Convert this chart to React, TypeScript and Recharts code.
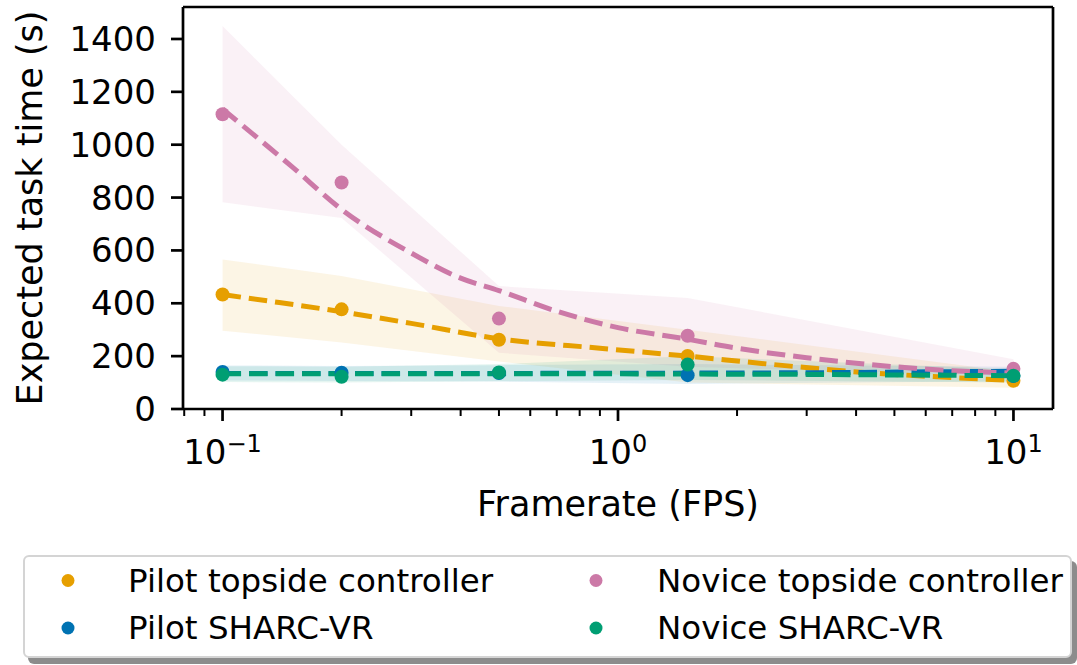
import { ComposedChart, XAxis, YAxis, Area, Line, Scatter, ReferenceLine } from "recharts";

const FONT = "DejaVu Sans";

const fps = [0.1, 0.2, 0.5, 1.5, 10];

// mean task time per condition
const pilotTopside = [433, 377, 262, 201, 107];
const pilotSharc = [140, 137, 136, 128, 125];
const noviceTopside = [1115, 857, 342, 277, 152];
const noviceSharc = [130, 122, 138, 168, 126];

// shaded interval bounds
const pilotTopsideLow = [296, 252, 180, 100, 80];
const pilotTopsideHigh = [566, 503, 390, 300, 140];
const pilotSharcLow = [108, 106, 104, 95, 105];
const pilotSharcHigh = [165, 163, 166, 170, 160];
const noviceTopsideLow = [782, 723, 213, 160, 125];
const noviceTopsideHigh = [1449, 1000, 465, 420, 188];
const noviceSharcLow = [102, 100, 105, 110, 100];
const noviceSharcHigh = [162, 160, 170, 200, 150];

// fitted curves
const pilotTopsideFitFps = [0.1, 0.13, 0.2, 0.3, 0.5, 0.9, 1.5, 2.4, 4.2, 6.2, 10];
const pilotTopsideFit = [433, 409, 368, 324, 266, 230, 200, 170, 138, 123, 108];
const noviceTopsideFitFps = [0.1, 0.13, 0.15, 0.2, 0.3, 0.4, 0.5, 0.7, 1, 1.5, 2, 3, 5, 7, 10];
const noviceTopsideFit = [1135, 994, 916, 755, 590, 495, 448, 370, 308, 264, 230, 194, 160, 145, 136];
const sharcFitFps = [0.1, 1, 3, 10];
const pilotSharcFit = [134, 135, 137, 143];
const noviceSharcFit = [133, 133, 131, 126];

const majorTicks = [0.1, 1, 10];
const minorTicks = [0.08, 0.09, 0.2, 0.3, 0.4, 0.5, 0.6, 0.7, 0.8, 0.9, 2, 3, 4, 5, 6, 7, 8, 9];
const yTicks = [0, 200, 400, 600, 800, 1000, 1200, 1400];

const X_MIN = Math.pow(10, -1.1);
const X_MAX = Math.pow(10, 1.1);
const Y_MAX = 1521;

const pts = (xs: number[], ys: number[]) => xs.map((x, i) => ({ x, y: ys[i] }));
const band = (lo: number[], hi: number[]) => fps.map((x, i) => ({ x, band: [lo[i], hi[i]] }));

const series = [
  { name: "Pilot topside controller", color: "#E69F00", points: pts(fps, pilotTopside), band: band(pilotTopsideLow, pilotTopsideHigh), fit: pts(pilotTopsideFitFps, pilotTopsideFit), curve: "monotone" },
  { name: "Pilot SHARC-VR", color: "#0072B2", points: pts(fps, pilotSharc), band: band(pilotSharcLow, pilotSharcHigh), fit: pts(sharcFitFps, pilotSharcFit), curve: "linear" },
  { name: "Novice topside controller", color: "#CC79A7", points: pts(fps, noviceTopside), band: band(noviceTopsideLow, noviceTopsideHigh), fit: pts(noviceTopsideFitFps, noviceTopsideFit), curve: "monotone" },
  { name: "Novice SHARC-VR", color: "#009E73", points: pts(fps, noviceSharc), band: band(noviceSharcLow, noviceSharcHigh), fit: pts(sharcFitFps, noviceSharcFit), curve: "linear" },
];

const SUP: Record<string, string> = { "-1": "\u22121", "0": "0", "1": "1" };

const XTick = (props: any) => {
  const { x, y, payload } = props;
  const v = payload.value;
  const major = majorTicks.some((m) => Math.abs(m - v) < 1e-9);
  const exp = String(Math.round(Math.log10(v)));
  return (
    <g>
      <line x1={x} x2={x} y1={y} y2={y + (major ? 12 : 7)} stroke="#000" strokeWidth={major ? 2.7 : 2} />
      {major && (
        <text x={x} y={y + 55} textAnchor="middle" fontFamily={FONT} fontSize={34} fill="#000">
          <tspan>10</tspan>
          <tspan dy={-12} fontSize={24}>{SUP[exp]}</tspan>
        </text>
      )}
    </g>
  );
};

const XLabel = (props: any) => {
  const vb = props.viewBox;
  return (
    <text x={vb.x + vb.width / 2} y={vb.y + 107} textAnchor="middle" fontFamily={FONT} fontSize={35} fill="#000">
      Framerate (FPS)
    </text>
  );
};

const YLabel = (props: any) => {
  const vb = props.viewBox;
  const cy = vb.y + vb.height / 2;
  return (
    <text x={42} y={cy} transform={`rotate(-90, 42, ${cy})`} textAnchor="middle" fontFamily={FONT} fontSize={35} fill="#000">
      Expected task time (s)
    </text>
  );
};

const axisStroke = { stroke: "#000", strokeWidth: 2.7 };

export default function App() {
  return (
    <div style={{ position: "absolute", left: 0, top: 0, width: 1077, height: 665, background: "#fff" }}>
      <ComposedChart width={1077} height={545} margin={{ top: 7, right: 24, bottom: 26, left: 0 }}>
        <XAxis
          dataKey="x"
          type="number"
          scale="log"
          domain={[X_MIN, X_MAX]}
          allowDataOverflow
          ticks={[...minorTicks, ...majorTicks].sort((a, b) => a - b)}
          interval={0}
          tick={<XTick />}
          tickLine={false}
          tickSize={0}
          tickMargin={0}
          axisLine={axisStroke}
          height={110}
          label={<XLabel />}
        />
        <YAxis
          type="number"
          domain={[0, Y_MAX]}
          allowDataOverflow
          ticks={yTicks}
          interval={0}
          width={183}
          tickSize={12}
          tickMargin={15}
          tickLine={axisStroke}
          axisLine={axisStroke}
          tick={{ fill: "#000", fontSize: 34, fontFamily: FONT }}
          label={<YLabel />}
        />

        {series.map((s) => (
          <Area
            key={`band-${s.name}`}
            data={s.band}
            dataKey="band"
            type="linear"
            stroke="none"
            fill={s.color}
            fillOpacity={0.1}
            isAnimationActive={false}
            activeDot={false}
          />
        ))}
        {series.map((s) => (
          <Scatter
            key={`pts-${s.name}`}
            data={s.points}
            dataKey="y"
            fill={s.color}
            isAnimationActive={false}
            shape={(p: any) => <circle cx={p.cx} cy={p.cy} r={7} fill={s.color} />}
          />
        ))}
        {series.map((s) => (
          <Line
            key={`fit-${s.name}`}
            data={s.fit}
            dataKey="y"
            type={s.curve as any}
            stroke={s.color}
            strokeWidth={5}
            strokeDasharray="18.5 8"
            dot={false}
            activeDot={false}
            isAnimationActive={false}
          />
        ))}

        {/* top and right spines */}
        <ReferenceLine y={Y_MAX} stroke="#000" strokeWidth={2.7} ifOverflow="visible" />
        <ReferenceLine x={X_MAX} stroke="#000" strokeWidth={2.7} ifOverflow="visible" />
      </ComposedChart>

      <div
        style={{
          position: "absolute",
          left: 23,
          top: 555,
          width: 1049,
          height: 103,
          boxSizing: "border-box",
          border: "2px solid #d4d4d4",
          borderRadius: 6,
          background: "#fff",
          boxShadow: "5px 6px 0 rgba(0,0,0,0.45)",
        }}
      />
      <svg width={1077} height={665} style={{ position: "absolute", left: 0, top: 0, pointerEvents: "none" }}>
        {series.map((s, k) => {
          const col = Math.floor(k / 2);
          const row = k % 2;
          const dotX = col === 0 ? 68 : 596;
          const textX = col === 0 ? 128 : 657;
          const cy = row === 0 ? 580.5 : 628;
          return (
            <g key={s.name}>
              <circle cx={dotX} cy={cy} r={6.5} fill={s.color} />
              <text x={textX} y={cy + 11} fontFamily={FONT} fontSize={32.5} fill="#000">
                {s.name}
              </text>
            </g>
          );
        })}
      </svg>
    </div>
  );
}
